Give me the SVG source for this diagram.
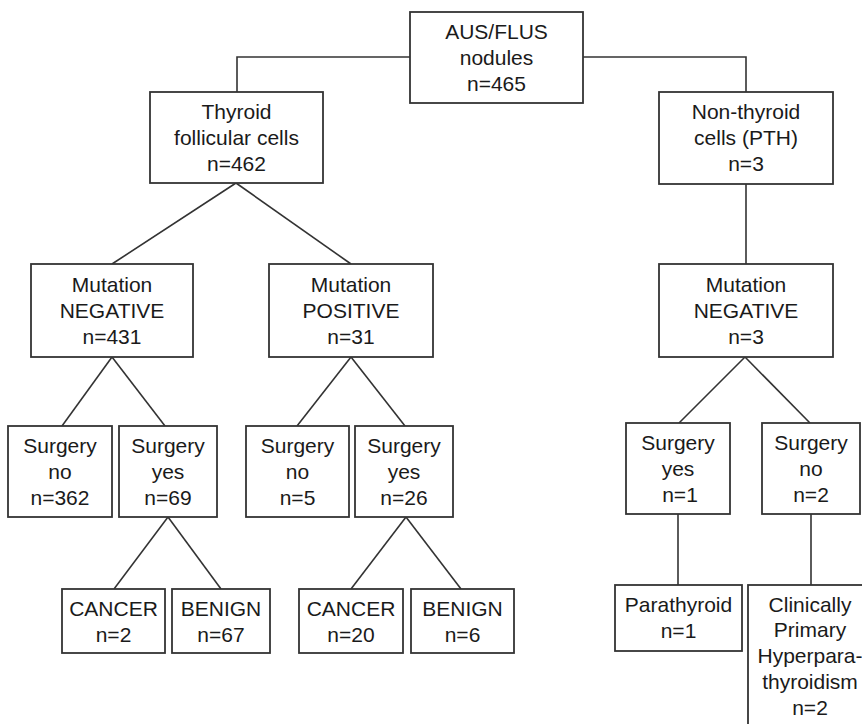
<svg xmlns="http://www.w3.org/2000/svg" width="862" height="724" viewBox="0 0 862 724">
<style>
rect{fill:#fff;stroke:#333;stroke-width:1.8}
.c line,.c polyline{stroke:#333;stroke-width:1.6;fill:none}
text{font-family:"Liberation Sans",Arial,sans-serif;font-size:21px;fill:#1a1a1a;text-anchor:middle}
</style>
<rect x="0" y="0" width="862" height="724" style="fill:#fff;stroke:none"/>
<g class="c" id="connectors">
<polyline points="410,57 237,57 237,92"/>
<polyline points="583,57 746,57 746,92"/>
<line x1="746" y1="184" x2="746" y2="264"/>
<line x1="236" y1="183" x2="112" y2="264"/>
<line x1="236" y1="183" x2="351" y2="264"/>
<line x1="112" y1="357" x2="62" y2="426"/>
<line x1="112" y1="357" x2="165" y2="426"/>
<line x1="351" y1="357" x2="297" y2="426"/>
<line x1="351" y1="357" x2="405" y2="426"/>
<line x1="168" y1="517" x2="114" y2="589"/>
<line x1="168" y1="517" x2="221" y2="589"/>
<line x1="406" y1="517" x2="351" y2="589"/>
<line x1="406" y1="517" x2="461" y2="589"/>
<line x1="745" y1="357" x2="679" y2="423"/>
<line x1="745" y1="357" x2="810" y2="423"/>
<line x1="678" y1="514" x2="678" y2="585"/>
<line x1="811" y1="514" x2="811" y2="585"/>
</g>
<g id="root"><rect x="410" y="12" width="173" height="91"/>
<text x="496.5" y="39">AUS/FLUS</text><text x="496.5" y="65">nodules</text><text x="496.5" y="91">n=465</text></g>
<g id="thyroid"><rect x="150" y="92" width="173" height="91"/>
<text x="236.5" y="119">Thyroid</text><text x="236.5" y="145">follicular cells</text><text x="236.5" y="171">n=462</text></g>
<g id="nonthyroid"><rect x="659" y="92" width="174" height="92"/>
<text x="746" y="119">Non-thyroid</text><text x="746" y="145">cells (PTH)</text><text x="746" y="171">n=3</text></g>
<g id="mutneg1"><rect x="31" y="264" width="162" height="93"/>
<text x="112" y="292">Mutation</text><text x="112" y="318">NEGATIVE</text><text x="112" y="344">n=431</text></g>
<g id="mutpos"><rect x="269" y="264" width="164" height="93"/>
<text x="351" y="292">Mutation</text><text x="351" y="318">POSITIVE</text><text x="351" y="344">n=31</text></g>
<g id="mutneg2"><rect x="659" y="264" width="174" height="93"/>
<text x="746" y="292">Mutation</text><text x="746" y="318">NEGATIVE</text><text x="746" y="344">n=3</text></g>
<g id="surgno1"><rect x="8" y="426" width="104" height="91"/>
<text x="60" y="453">Surgery</text><text x="60" y="479">no</text><text x="60" y="505">n=362</text></g>
<g id="surgyes1"><rect x="119" y="426" width="98" height="91"/>
<text x="168" y="453">Surgery</text><text x="168" y="479">yes</text><text x="168" y="505">n=69</text></g>
<g id="surgno2"><rect x="246" y="426" width="103" height="91"/>
<text x="297.5" y="453">Surgery</text><text x="297.5" y="479">no</text><text x="297.5" y="505">n=5</text></g>
<g id="surgyes2"><rect x="355" y="426" width="98" height="91"/>
<text x="404" y="453">Surgery</text><text x="404" y="479">yes</text><text x="404" y="505">n=26</text></g>
<g id="surgyes3"><rect x="626" y="423" width="104" height="91"/>
<text x="678" y="450">Surgery</text><text x="678" y="476">yes</text><text x="680" y="502">n=1</text></g>
<g id="surgno3"><rect x="762" y="423" width="98" height="91"/>
<text x="811" y="450">Surgery</text><text x="811" y="476">no</text><text x="811" y="502">n=2</text></g>
<g id="cancer1"><rect x="62" y="589" width="103" height="64"/>
<text x="113.5" y="616">CANCER</text><text x="113.5" y="642">n=2</text></g>
<g id="benign1"><rect x="172" y="589" width="98" height="64"/>
<text x="221" y="616">BENIGN</text><text x="221" y="642">n=67</text></g>
<g id="cancer2"><rect x="299" y="589" width="104" height="64"/>
<text x="351" y="616">CANCER</text><text x="351" y="642">n=20</text></g>
<g id="benign2"><rect x="411" y="589" width="103" height="64"/>
<text x="462.5" y="616">BENIGN</text><text x="462.5" y="642">n=6</text></g>
<g id="parathyroid"><rect x="615" y="585" width="127" height="66"/>
<text x="678.5" y="612">Parathyroid</text><text x="678.5" y="638">n=1</text></g>
<g id="clinically"><rect x="748" y="585" width="126" height="150"/>
<text x="810" y="612">Clinically</text><text x="810" y="637">Primary</text><text x="810" y="663">Hyperpara-</text><text x="810" y="689">thyroidism</text><text x="810" y="715">n=2</text></g>
</svg>
